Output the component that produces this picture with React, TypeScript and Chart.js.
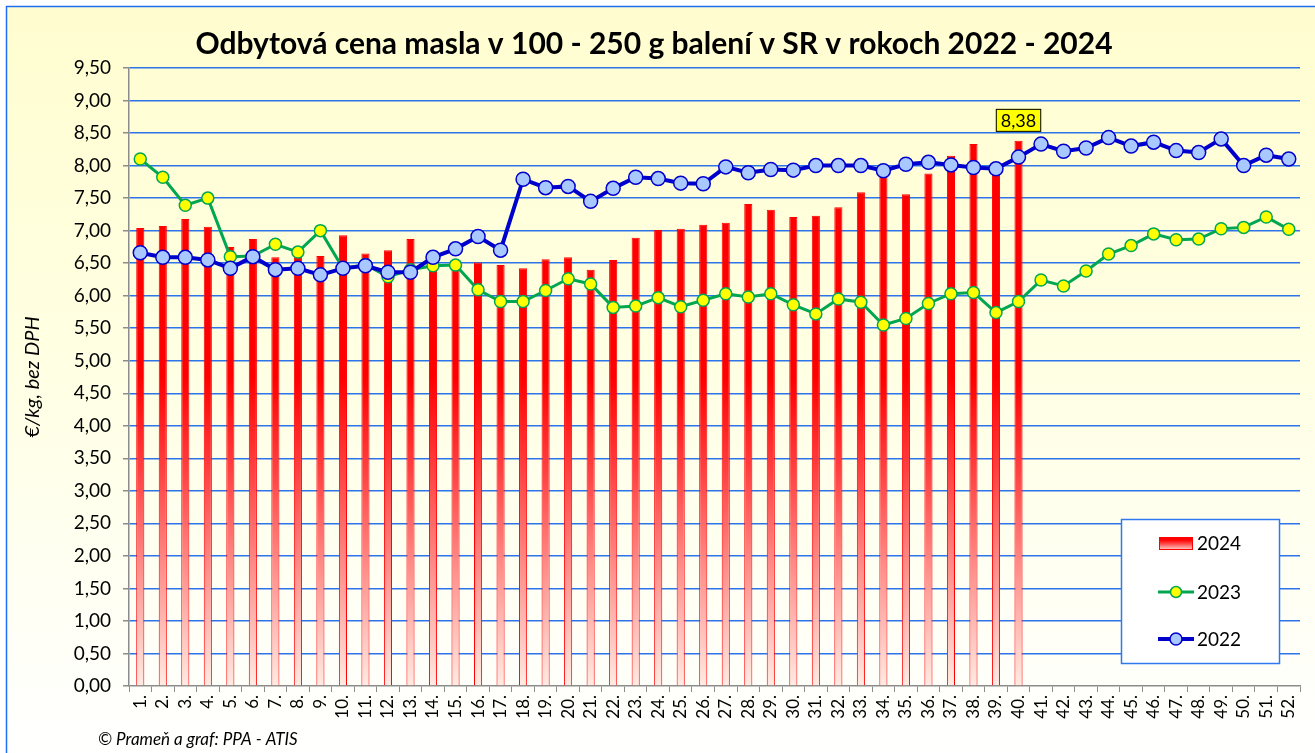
import React, { useEffect, useRef } from 'react';
import { Chart, registerables } from 'chart.js';

Chart.register(...registerables);

const weeks = ['1.', '2.', '3.', '4.', '5.', '6.', '7.', '8.', '9.', '10.', '11.', '12.', '13.', '14.', '15.', '16.', '17.', '18.', '19.', '20.', '21.', '22.', '23.', '24.', '25.', '26.', '27.', '28.', '29.', '30.', '31.', '32.', '33.', '34.', '35.', '36.', '37.', '38.', '39.', '40.', '41.', '42.', '43.', '44.', '45.', '46.', '47.', '48.', '49.', '50.', '51.', '52.'];

const prices2024 = [7.04, 7.07, 7.18, 7.06, 6.75, 6.87, 6.59, 6.62, 6.61, 6.93, 6.65, 6.70, 6.87, 6.51, 6.48, 6.51, 6.47, 6.42, 6.56, 6.59, 6.40, 6.55, 6.89, 7.01, 7.03, 7.09, 7.12, 7.41, 7.32, 7.21, 7.23, 7.36, 7.59, 7.90, 7.56, 7.88, 8.15, 8.33, 7.95, 8.38];

const prices2023 = [8.10, 7.82, 7.39, 7.50, 6.60, 6.61, 6.79, 6.67, 7.00, 6.42, 6.48, 6.29, 6.40, 6.46, 6.47, 6.09, 5.91, 5.91, 6.08, 6.26, 6.18, 5.82, 5.84, 5.97, 5.83, 5.93, 6.03, 5.98, 6.03, 5.86, 5.72, 5.95, 5.90, 5.55, 5.65, 5.88, 6.03, 6.05, 5.74, 5.91, 6.24, 6.15, 6.38, 6.64, 6.77, 6.95, 6.86, 6.87, 7.03, 7.05, 7.21, 7.02];

const prices2022 = [6.66, 6.59, 6.59, 6.55, 6.42, 6.60, 6.40, 6.42, 6.32, 6.42, 6.46, 6.36, 6.36, 6.59, 6.72, 6.91, 6.70, 7.79, 7.66, 7.68, 7.45, 7.65, 7.82, 7.80, 7.73, 7.72, 7.98, 7.89, 7.94, 7.93, 8.00, 8.00, 8.00, 7.92, 8.02, 8.05, 8.01, 7.97, 7.95, 8.13, 8.33, 8.22, 8.27, 8.43, 8.30, 8.36, 8.23, 8.20, 8.41, 8.00, 8.16, 8.10];

const seriesLabels = ['2024', '2023', '2022'];
const TITLE = 'Odbytová cena masla v 100 - 250 g balení v SR v rokoch 2022 - 2024';
const Y_TITLE = '€/kg, bez DPH';
const SOURCE = '© Prameň a graf: PPA - ATIS';
const highlightIndex = 39;

const FONT = 'Lato, "Open Sans", sans-serif';
const fmt = (v: number) => v.toFixed(2).replace('.', ',');

function barGradient(ctx: CanvasRenderingContext2D, top: number, bottom: number) {
  const g = ctx.createLinearGradient(0, top, 0, bottom);
  g.addColorStop(0, '#FF0000');
  g.addColorStop(0.5, '#FF0000');
  g.addColorStop(0.65, '#FF4040');
  g.addColorStop(1, '#FFEBE2');
  return g;
}

const backgroundPlugin = {
  id: 'panelBackground',
  beforeDraw(chart: any) {
    const { ctx, width, height } = chart;
    ctx.save();
    ctx.fillStyle = '#FFFFFF';
    ctx.fillRect(0, 0, width, height);
    const g = ctx.createLinearGradient(0, 6, 0, height);
    g.addColorStop(0, '#FFFDCF');
    g.addColorStop(0.45, '#FFFFE2');
    g.addColorStop(1, '#FFFFFF');
    ctx.fillStyle = g;
    ctx.fillRect(6, 6, width, height);
    ctx.strokeStyle = '#1F6FF5';
    ctx.lineWidth = 1.5;
    ctx.beginPath();
    ctx.moveTo(6.5, height + 2);
    ctx.lineTo(6.5, 6.5);
    ctx.lineTo(width + 2, 6.5);
    ctx.stroke();
    ctx.restore();
  },
};

const overlayPlugin = {
  id: 'overlay',
  afterDraw(chart: any) {
    const { ctx } = chart;
    ctx.save();
    // data label for the latest 2024 value
    const barMeta = chart.getDatasetMeta(2);
    const el = barMeta.data[highlightIndex];
    if (el) {
      const text = fmt(prices2024[highlightIndex]);
      ctx.font = `18px ${FONT}`;
      const w = ctx.measureText(text).width + 10;
      const h = 23;
      const bx = el.x - w / 2;
      const by = el.y - 9 - h;
      ctx.fillStyle = '#FFFF00';
      ctx.fillRect(bx, by, w, h);
      ctx.strokeStyle = '#000000';
      ctx.lineWidth = 1;
      ctx.strokeRect(bx + 0.5, by + 0.5, w - 1, h - 1);
      ctx.fillStyle = '#000';
      ctx.textAlign = 'center';
      ctx.textBaseline = 'middle';
      ctx.fillText(text, el.x, by + h / 2 + 1);
    }

    // legend box
    const lx = 1121, ly = 519, lw = 159, lh = 145;
    ctx.fillStyle = '#FFFFFF';
    ctx.fillRect(lx, ly, lw, lh);
    ctx.strokeStyle = '#2E78F0';
    ctx.lineWidth = 1.5;
    ctx.strokeRect(lx + 0.5, ly + 0.5, lw - 1, lh - 1);
    const mx = 1176;
    const tx = 1197;
    const rows = [543, 592, 639];
    ctx.font = `19px ${FONT}`;
    ctx.textAlign = 'left';
    ctx.textBaseline = 'middle';
    // 2024
    ctx.fillStyle = barGradient(ctx, rows[0] - 14, rows[0] + 8);
    ctx.fillRect(1159, rows[0] - 6, 34, 13);
    ctx.strokeStyle = '#FF0000';
    ctx.lineWidth = 1;
    ctx.strokeRect(1159.5, rows[0] - 5.5, 33, 12);
    ctx.fillStyle = '#000';
    ctx.fillText(seriesLabels[0], tx, rows[0] + 1);
    // 2023
    ctx.strokeStyle = '#00A650';
    ctx.lineWidth = 3;
    ctx.beginPath();
    ctx.moveTo(1158, rows[1]);
    ctx.lineTo(1194, rows[1]);
    ctx.stroke();
    ctx.beginPath();
    ctx.arc(mx, rows[1], 5.5, 0, Math.PI * 2);
    ctx.fillStyle = '#FFFF00';
    ctx.fill();
    ctx.lineWidth = 1.5;
    ctx.stroke();
    ctx.fillStyle = '#000';
    ctx.fillText(seriesLabels[1], tx, rows[1] + 1);
    // 2022
    ctx.strokeStyle = '#0000CC';
    ctx.lineWidth = 4;
    ctx.beginPath();
    ctx.moveTo(1158, rows[2]);
    ctx.lineTo(1194, rows[2]);
    ctx.stroke();
    ctx.beginPath();
    ctx.arc(mx, rows[2], 6, 0, Math.PI * 2);
    ctx.fillStyle = '#A9C8FF';
    ctx.fill();
    ctx.lineWidth = 1.5;
    ctx.stroke();
    ctx.fillStyle = '#000';
    ctx.fillText(seriesLabels[2], tx, rows[2] + 1);

    // source note
    ctx.font = `italic 17px ${FONT}`;
    ctx.fillStyle = '#000';
    ctx.textAlign = 'left';
    ctx.textBaseline = 'middle';
    ctx.fillText(SOURCE, 98, 740);
    ctx.restore();
  },
};

export default function App() {
  const ref = useRef<HTMLCanvasElement | null>(null);

  useEffect(() => {
    document.body.style.margin = '0';
    document.body.style.overflow = 'hidden';
    const canvas = ref.current;
    if (!canvas) return;
    const chart = new Chart(canvas, {
      type: 'bar',
      data: {
        labels: weeks,
        datasets: [
          {
            type: 'line',
            label: seriesLabels[2],
            data: prices2022,
            borderColor: '#0000CC',
            borderWidth: 4,
            pointRadius: 7,
            pointBackgroundColor: '#A9C8FF',
            pointBorderColor: '#0000CC',
            pointBorderWidth: 1.5,
            tension: 0,
            order: 1,
          },
          {
            type: 'line',
            label: seriesLabels[1],
            data: prices2023,
            borderColor: '#00A650',
            borderWidth: 3,
            pointRadius: 6,
            pointBackgroundColor: '#FFFF00',
            pointBorderColor: '#00A650',
            pointBorderWidth: 1.5,
            tension: 0,
            order: 2,
          },
          {
            type: 'bar',
            label: seriesLabels[0],
            data: prices2024,
            backgroundColor: (c: any) => {
              const area = c.chart.chartArea;
              if (!area) return '#FF0000';
              return barGradient(c.chart.ctx, area.top, area.bottom);
            },
            borderColor: '#FF0000',
            borderWidth: 1,
            barPercentage: 0.36,
            categoryPercentage: 1,
            order: 3,
          },
        ],
      } as any,
      options: {
        responsive: false,
        animation: false,
        layout: { padding: { left: 8, right: 15, top: 6, bottom: 0 } },
        plugins: {
          legend: { display: false },
          tooltip: { enabled: false },
          title: {
            display: true,
            text: TITLE,
            color: '#000',
            font: { family: FONT, size: 30, weight: 'bold' },
            padding: { top: 20, bottom: 6 },
          },
        },
        scales: {
          x: {
            offset: true,
            grid: {
              offset: true,
              drawOnChartArea: false,
              drawTicks: true,
              tickLength: 6,
              tickColor: '#8C8C8C',
              lineWidth: 1,
            },
            border: { color: '#8C8C8C', width: 1.5 },
            ticks: {
              autoSkip: false,
              minRotation: 90,
              maxRotation: 90,
              padding: 3,
              color: '#000',
              font: { family: FONT, size: 17 },
            },
            afterFit: (s: any) => {
              s.height = 67;
            },
          },
          y: {
            min: 0,
            max: 9.5,
            ticks: {
              stepSize: 0.5,
              padding: 12,
              color: '#000',
              font: { family: FONT, size: 19 },
              callback: (v: any) => fmt(Number(v)),
            },
            grid: {
              color: (c: any) => (c.tick && c.tick.value === 0 ? 'rgba(0,0,0,0)' : '#2C74E8'),
              lineWidth: 1.5,
              tickColor: '#8C8C8C',
              tickLength: 6,
            },
            border: { color: '#8C8C8C', width: 1.5 },
            title: {
              display: true,
              text: Y_TITLE,
              color: '#000',
              font: { family: FONT, size: 20, style: 'italic' },
              padding: { top: 13, bottom: 0 },
            },
            afterFit: (s: any) => {
              s.width = 121;
            },
          },
        },
      } as any,
      plugins: [backgroundPlugin, overlayPlugin],
    });
    return () => chart.destroy();
  }, []);

  return <canvas ref={ref} width={1315} height={753} style={{ display: 'block' }} />;
}
